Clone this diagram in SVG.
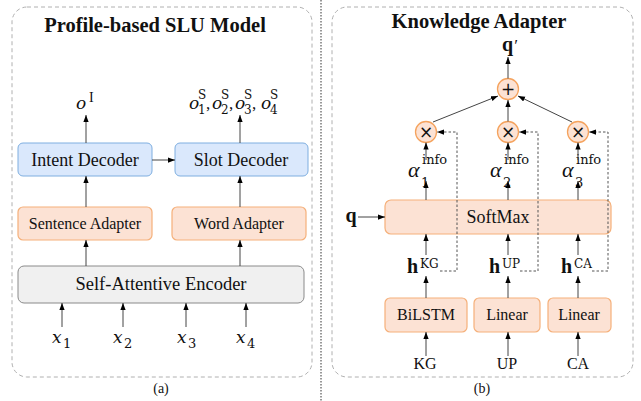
<svg xmlns="http://www.w3.org/2000/svg" width="641" height="401" viewBox="0 0 641 401">
<style>
text{font-family:"Liberation Serif","Times New Roman",serif;fill:#111}
.title{font-size:20.5px;font-weight:bold;text-anchor:middle}
.lbl{text-anchor:middle}
.m{font-family:"DejaVu Serif",serif;font-style:italic;font-size:17px}
.al{font-family:"Liberation Serif",serif;font-style:italic;font-size:22px}
.sup{font-family:"DejaVu Serif",serif;font-size:12px}
.sup2{font-family:"DejaVu Serif",serif;font-size:13px}
.cap{font-size:14px;text-anchor:middle}
.panel{fill:none;stroke:#b0b0b0;stroke-width:1;stroke-dasharray:4 3}
.blue{fill:#dae8fc;stroke:#7eaee0;stroke-width:1}
.org{fill:#fce2d4;stroke:#f5b07a;stroke-width:1.2}
.grey{fill:#f0f0f0;stroke:#8a8a8a;stroke-width:1}
.circ{fill:#fce2d4;stroke:#f5a35e;stroke-width:1.3}
.op{font-family:"DejaVu Sans",sans-serif;font-size:17px;text-anchor:middle}
.a{fill:none;stroke:#444;stroke-width:1;marker-end:url(#ah)}
.da{fill:none;stroke:#555;stroke-width:1;stroke-dasharray:2.5 2;marker-end:url(#ah)}
</style>
<defs>
<marker id="ah" viewBox="0 0 8 6" refX="8" refY="3" markerWidth="7" markerHeight="6" markerUnits="userSpaceOnUse" orient="auto">
<path d="M0,0 L8,3 L0,6 z" fill="#000"/>
</marker>
</defs>

<!-- separator -->
<line x1="321" y1="0" x2="321" y2="401" stroke="#333" stroke-width="1" stroke-dasharray="1.5 1.5"/>

<!-- panel (a) -->
<g id="panel-a">
<rect class="panel" x="12" y="7" width="300" height="370" rx="15"/>
<text class="title" x="155" y="32">Profile-based SLU Model</text>
<text class="cap" x="161" y="393">(a)</text>
</g>
<g id="out-intent">
<text><tspan class="m" x="76" y="109">o</tspan><tspan x="89" y="102" font-size="14">I</tspan></text>
</g>
<g id="out-slot">
<text><tspan class="m" x="189" y="109">o</tspan><tspan class="sup" x="198" y="114">1</tspan><tspan class="sup" x="198" y="99">S</tspan><tspan x="206" y="109" font-size="17">,</tspan><tspan class="m" x="212" y="109">o</tspan><tspan class="sup" x="221" y="114">2</tspan><tspan class="sup" x="221" y="99">S</tspan><tspan x="229" y="109" font-size="17">,</tspan><tspan class="m" x="235" y="109">o</tspan><tspan class="sup" x="244" y="114">3</tspan><tspan class="sup" x="244" y="99">S</tspan><tspan x="252" y="109" font-size="17">,</tspan><tspan class="m" x="261" y="109">o</tspan><tspan class="sup" x="270" y="114">4</tspan><tspan class="sup" x="270" y="99">S</tspan></text>
</g>
<g id="intent-decoder">
<rect class="blue" x="18" y="143" width="134" height="33" rx="5"/>
<text class="lbl" x="85" y="166" font-size="18">Intent Decoder</text>
</g>
<g id="slot-decoder">
<rect class="blue" x="175" y="143" width="133" height="33" rx="5"/>
<text class="lbl" x="241" y="166" font-size="18">Slot Decoder</text>
</g>
<g id="sentence-adapter">
<rect class="org" x="18" y="207" width="134" height="33" rx="5"/>
<text class="lbl" x="85" y="229" font-size="16">Sentence Adapter</text>
</g>
<g id="word-adapter">
<rect class="org" x="172" y="207" width="134" height="33" rx="5"/>
<text class="lbl" x="239" y="229" font-size="16">Word Adapter</text>
</g>
<g id="encoder">
<rect class="grey" x="18" y="266" width="286" height="37" rx="6"/>
<text class="lbl" x="161" y="290" font-size="18.5">Self-Attentive Encoder</text>
</g>
<g id="inputs">
<text><tspan class="m" x="52" y="343">x</tspan><tspan class="sup2" x="63" y="348">1</tspan></text>
<text><tspan class="m" x="113" y="343">x</tspan><tspan class="sup2" x="124" y="348">2</tspan></text>
<text><tspan class="m" x="177" y="343">x</tspan><tspan class="sup2" x="188" y="348">3</tspan></text>
<text><tspan class="m" x="236" y="343">x</tspan><tspan class="sup2" x="247" y="348">4</tspan></text>
</g>

<!-- panel (b) -->
<g id="panel-b">
<rect class="panel" x="332" y="7" width="301" height="370" rx="15"/>
<text class="title" x="479" y="28">Knowledge Adapter</text>
<text class="cap" x="482" y="393">(b)</text>
</g>
<g id="q-out">
<text font-weight="bold" font-size="20" x="502" y="51">q<tspan font-weight="normal" font-style="italic" font-size="17">′</tspan></text>
</g>
<g id="plus">
<circle class="circ" cx="508" cy="89" r="10.5"/>
<text class="op" x="508" y="95">+</text>
</g>
<g id="mul1">
<circle class="circ" cx="426" cy="132" r="10.5"/>
<text class="op" x="426" y="138">×</text>
</g>
<g id="mul2">
<circle class="circ" cx="508" cy="132" r="10.5"/>
<text class="op" x="508" y="138">×</text>
</g>
<g id="mul3">
<circle class="circ" cx="578" cy="132" r="10.5"/>
<text class="op" x="578" y="138">×</text>
</g>
<g id="alpha1">
<text><tspan class="al" x="408" y="177">α</tspan><tspan class="sup2" x="422" y="164">info</tspan><tspan class="sup2" x="421" y="187">1</tspan></text>
</g>
<g id="alpha2">
<text><tspan class="al" x="490" y="177">α</tspan><tspan class="sup2" x="504" y="164">info</tspan><tspan class="sup2" x="503" y="187">2</tspan></text>
</g>
<g id="alpha3">
<text><tspan class="al" x="562" y="177">α</tspan><tspan class="sup2" x="576" y="164">info</tspan><tspan class="sup2" x="575" y="187">3</tspan></text>
</g>
<g id="q-in">
<text font-weight="bold" font-size="20" x="351" y="222" text-anchor="middle">q</text>
</g>
<g id="softmax">
<rect class="org" x="385" y="200" width="226" height="34" rx="6"/>
<text class="lbl" x="498" y="223" font-size="18">SoftMax</text>
</g>
<g id="h-kg">
<text><tspan font-weight="bold" font-size="20" x="407" y="273">h</tspan><tspan class="sup" x="420" y="268">KG</tspan></text>
</g>
<g id="h-up">
<text><tspan font-weight="bold" font-size="20" x="489" y="273">h</tspan><tspan class="sup" x="502" y="268">UP</tspan></text>
</g>
<g id="h-ca">
<text><tspan font-weight="bold" font-size="20" x="561" y="273">h</tspan><tspan class="sup" x="574" y="268">CA</tspan></text>
</g>
<g id="bilstm">
<rect class="org" x="385" y="298" width="82" height="34" rx="5"/>
<text class="lbl" x="426" y="320" font-size="16">BiLSTM</text>
</g>
<g id="linear-up">
<rect class="org" x="474" y="298" width="66" height="34" rx="5"/>
<text class="lbl" x="507" y="320" font-size="16">Linear</text>
</g>
<g id="linear-ca">
<rect class="org" x="548" y="298" width="63" height="34" rx="5"/>
<text class="lbl" x="579" y="320" font-size="16">Linear</text>
</g>
<g id="inputs-b">
<text class="lbl" x="425" y="369" font-size="16">KG</text>
<text class="lbl" x="507" y="369" font-size="16">UP</text>
<text class="lbl" x="578" y="369" font-size="16">CA</text>
</g>

<g id="connectors">
<!-- panel a -->
<path class="a" d="M86,143 V115"/>
<path class="a" d="M240,143 V115"/>
<path class="a" d="M152,160 H175"/>
<path class="a" d="M86,207 V176"/>
<path class="a" d="M240,207 V176"/>
<path class="a" d="M86,266 V240"/>
<path class="a" d="M240,266 V240"/>
<path class="a" d="M62,327 V303"/>
<path class="a" d="M123,327 V303"/>
<path class="a" d="M186,327 V303"/>
<path class="a" d="M246,327 V303"/>
<!-- panel b -->
<path class="a" d="M508,78.5 V57"/>
<path class="a" d="M433,122 L498,96"/>
<path class="a" d="M508,121.5 V100"/>
<path class="a" d="M572,122 L518,96"/>
<path class="a" d="M426,160 V142.5"/>
<path class="a" d="M508,160 V142.5"/>
<path class="a" d="M578,160 V142.5"/>
<path class="a" d="M426,200 V181"/>
<path class="a" d="M508,200 V181"/>
<path class="a" d="M578,200 V181"/>
<path class="a" d="M358,217 H385"/>
<path class="a" d="M426,255 V234"/>
<path class="a" d="M508,255 V234"/>
<path class="a" d="M578,255 V234"/>
<path class="a" d="M426,298 V276"/>
<path class="a" d="M508,298 V276"/>
<path class="a" d="M578,298 V276"/>
<path class="a" d="M426,356 V332"/>
<path class="a" d="M508,356 V332"/>
<path class="a" d="M578,356 V332"/>
<path class="da" d="M440,271 H457 V132 H437"/>
<path class="da" d="M520,271 H538 V132 H519"/>
<path class="da" d="M592,271 H608 V132 H589"/>
</g>
</svg>
